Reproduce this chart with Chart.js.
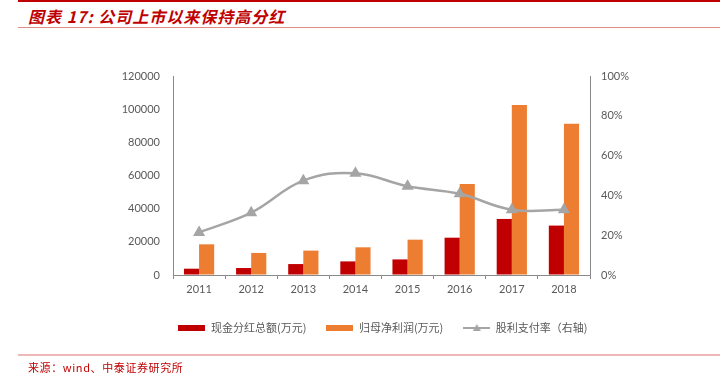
<!DOCTYPE html>
<html>
<head>
<meta charset="utf-8">
<script src="https://cdn.jsdelivr.net/npm/chart.js@4/dist/chart.umd.min.js"></script>
<style>
  body { margin: 0; background: #fff; }
  #wrap { position: relative; width: 720px; height: 376px; overflow: hidden; }
  #topLine { position: absolute; left: 18px; top: 0; width: 702px; height: 2px; background: #c00000; }
  #title { position: absolute; left: 28px; top: 4px; font: italic bold 16px "Noto Sans CJK SC", sans-serif; letter-spacing: 1px; color: #c00000; }
  #titleLine { position: absolute; left: 18px; top: 27px; width: 702px; height: 1px; background: #e08a8a; }
  #footLine { position: absolute; left: 18px; top: 354px; width: 702px; height: 2px; background: #eeb8b8; }
  #source { position: absolute; left: 28px; top: 359px; font: 11px "Noto Sans CJK SC", sans-serif; letter-spacing: 0.6px; color: #c00000; }
  #chartBox { position: absolute; left: 0; top: 0; width: 720px; height: 376px; }
</style>
</head>
<body>
<div id="wrap">
  <div id="topLine"></div>
  <div id="title">图表 17:  公司上市以来保持高分红</div>
  <div id="titleLine"></div>
  <div id="chartBox"><canvas id="dividendChart" width="720" height="376"></canvas></div>
  <div id="footLine"></div>
  <div id="source">来源：wind、中泰证券研究所</div>
</div>
<script>
// data
const years = ['2011', '2012', '2013', '2014', '2015', '2016', '2017', '2018'];
const cashDividend = [3800, 4200, 6600, 8200, 9400, 22500, 33800, 29800];
const netProfit = [18500, 13300, 14700, 16700, 21300, 54900, 102500, 91200];
const payoutRatio = [21.4, 31.3, 47.4, 51.1, 44.6, 40.8, 32.8, 32.8];
const seriesNames = ['现金分红总额(万元)', '归母净利润(万元)', '股利支付率（右轴)'];

const RED = '#c00000';
const ORANGE = '#ed7d31';
const GREY = '#a5a5a5';
const AXIS = '#898989';
const TEXT = '#595959';

// small images for the legend markers
function makeBox(color) {
    const c = document.createElement('canvas');
    c.width = 27; c.height = 6;
    const g = c.getContext('2d');
    g.fillStyle = color;
    g.fillRect(0, 0, 27, 6);
    return c;
}
function makeLineMark() {
    const c = document.createElement('canvas');
    c.width = 27; c.height = 9;
    const g = c.getContext('2d');
    g.strokeStyle = GREY;
    g.lineWidth = 2;
    g.beginPath(); g.moveTo(0, 5); g.lineTo(27, 5); g.stroke();
    g.fillStyle = GREY;
    g.beginPath(); g.moveTo(13.5, 1); g.lineTo(17.5, 8); g.lineTo(9.5, 8); g.closePath(); g.fill();
    return c;
}
const legendMarks = [makeBox(RED), makeBox(ORANGE), makeLineMark()];

const ctx = document.getElementById('dividendChart').getContext('2d');

new Chart(ctx, {
    data: {
        labels: years,
        datasets: [{
            type: 'bar',
            label: seriesNames[0],
            data: cashDividend,
            backgroundColor: RED,
            yAxisID: 'y',
            order: 1,
            categoryPercentage: 0.58,
            barPercentage: 1
        }, {
            type: 'bar',
            label: seriesNames[1],
            data: netProfit,
            backgroundColor: ORANGE,
            yAxisID: 'y',
            order: 1,
            categoryPercentage: 0.58,
            barPercentage: 1
        }, {
            type: 'line',
            label: seriesNames[2],
            data: payoutRatio,
            borderColor: GREY,
            backgroundColor: GREY,
            borderWidth: 2.5,
            tension: 0.4,
            pointStyle: 'triangle',
            pointRadius: 4.5,
            pointBackgroundColor: GREY,
            pointBorderColor: GREY,
            yAxisID: 'y1',
            order: 0
        }]
    },
    options: {
        responsive: false,
        animation: false,
        devicePixelRatio: 1,
        layout: {
            padding: { left: 46, right: 0, top: 76, bottom: 33 }
        },
        plugins: {
            tooltip: { enabled: false },
            legend: {
                position: 'bottom',
                labels: {
                    usePointStyle: true,
                    pointStyleWidth: 27,
                    padding: 20,
                    color: TEXT,
                    font: { family: '"Noto Sans CJK SC"', size: 11 },
                    generateLabels: chart => chart.data.datasets.map((ds, i) => ({
                        text: ds.label,
                        fillStyle: ds.backgroundColor,
                        strokeStyle: ds.backgroundColor,
                        lineWidth: 0,
                        pointStyle: legendMarks[i],
                        hidden: false,
                        datasetIndex: i,
                        fontColor: TEXT
                    }))
                }
            }
        },
        scales: {
            x: {
                offset: true,
                grid: {
                    offset: true,
                    drawOnChartArea: false,
                    drawTicks: true,
                    tickLength: 4,
                    color: AXIS
                },
                border: { color: AXIS, width: 1 },
                ticks: { color: TEXT, padding: 4, font: { family: 'Lato', size: 11 } },
                afterFit: scale => { scale.height = 27; }
            },
            y: {
                position: 'left',
                min: 0,
                max: 120000,
                grid: { drawOnChartArea: false, drawTicks: false },
                border: { color: AXIS, width: 1 },
                ticks: {
                    stepSize: 20000,
                    color: TEXT,
                    padding: 13,
                    font: { family: 'Lato', size: 11 },
                    callback: v => String(v)
                },
                afterFit: scale => { scale.width = 127; }
            },
            y1: {
                position: 'right',
                min: 0,
                max: 100,
                grid: { drawOnChartArea: false, drawTicks: false },
                border: { color: AXIS, width: 1 },
                ticks: {
                    stepSize: 20,
                    color: TEXT,
                    padding: 11,
                    font: { family: 'Lato', size: 11 },
                    callback: v => v + '%'
                },
                afterFit: scale => { scale.width = 130; }
            }
        }
    }
});
</script>
</body>
</html>
